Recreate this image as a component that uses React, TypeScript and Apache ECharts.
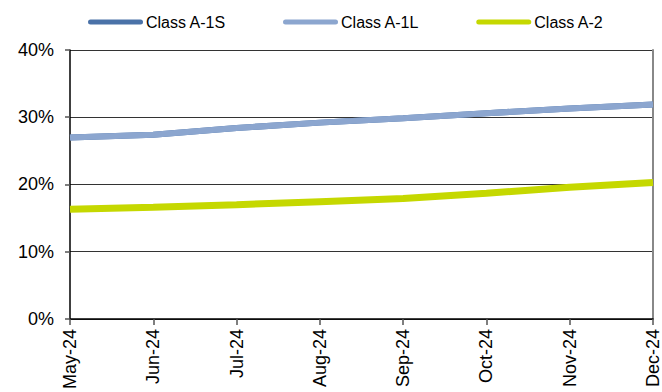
import React, { useEffect, useRef } from "react";
import * as echarts from "echarts";

const categories = ["May-24", "Jun-24", "Jul-24", "Aug-24", "Sep-24", "Oct-24", "Nov-24", "Dec-24"];
const classA1S = [27.0, 27.4, 28.4, 29.2, 29.85, 30.6, 31.3, 31.9];
const classA1L = [27.0, 27.4, 28.4, 29.2, 29.85, 30.6, 31.3, 31.9];
const classA2 = [16.3, 16.6, 17.0, 17.45, 17.9, 18.7, 19.6, 20.3];
const seriesNames = ["Class A-1S", "Class A-1L", "Class A-2"];
const colors = ["#4a72a8", "#8ca6cf", "#c5d800"];

const pill = "path://M2.5,0 H52.5 A2.5,2.5 0 0 1 52.5,5 H2.5 A2.5,2.5 0 0 1 2.5,0 Z";
const font = "'Liberation Sans', Arial, sans-serif";

export default function App() {
  const ref = useRef<HTMLDivElement>(null);
  useEffect(() => {
    if (!ref.current) return;
    const chart = echarts.init(ref.current, null, { renderer: "svg" });
    const datasets = [classA1S, classA1L, classA2];
    chart.setOption({
      animation: false,
      backgroundColor: "#ffffff",
      legend: {
        top: 9,
        left: 83,
        itemWidth: 55,
        itemHeight: 5,
        itemGap: 57,
        icon: pill,
        textStyle: { fontFamily: font, fontSize: 16, color: "#000", padding: [0, 0, 0, -2] },
        data: seriesNames,
      },
      grid: { left: 70, right: 4, top: 50, bottom: 70, containLabel: false },
      xAxis: {
        type: "category",
        data: categories,
        boundaryGap: false,
        axisLine: { lineStyle: { color: "#000", width: 1.5 } },
        axisTick: { show: true, length: 6, inside: false, lineStyle: { color: "#555", width: 1.5 } },
        axisLabel: {
          rotate: 90,
          margin: 10,
          fontFamily: font,
          fontSize: 18,
          color: "#000",
          interval: 0,
        },
        splitLine: { show: false },
      },
      yAxis: [
        {
          type: "value",
          min: 0,
          max: 40,
          interval: 10,
          axisLine: { show: true, lineStyle: { color: "#000", width: 1.5 } },
          axisTick: { show: true, length: 5, lineStyle: { color: "#555", width: 1.5 } },
          axisLabel: {
            formatter: "{value}%",
            margin: 16,
            fontFamily: font,
            fontSize: 18,
            color: "#000",
          },
          splitLine: { show: true, lineStyle: { color: "#333", width: 1 } },
        },
        {
          type: "value",
          min: 0,
          max: 40,
          interval: 10,
          position: "right",
          axisLine: { show: true, lineStyle: { color: "#888", width: 2 } },
          axisTick: { show: false },
          axisLabel: { show: false },
          splitLine: { show: false },
        },
      ],
      series: seriesNames.map((name, i) => ({
        name,
        type: "line",
        data: datasets[i],
        symbol: "none",
        smooth: false,
        color: colors[i],
        lineStyle: { color: colors[i], width: i === 2 ? 7 : 6, cap: "butt" },
        itemStyle: { color: colors[i] },
        z: i + 2,
      })),
    });
    return () => chart.dispose();
  }, []);
  return <div ref={ref} style={{ width: 662, height: 392, position: "absolute", left: 0, top: 0 }} />;
}
